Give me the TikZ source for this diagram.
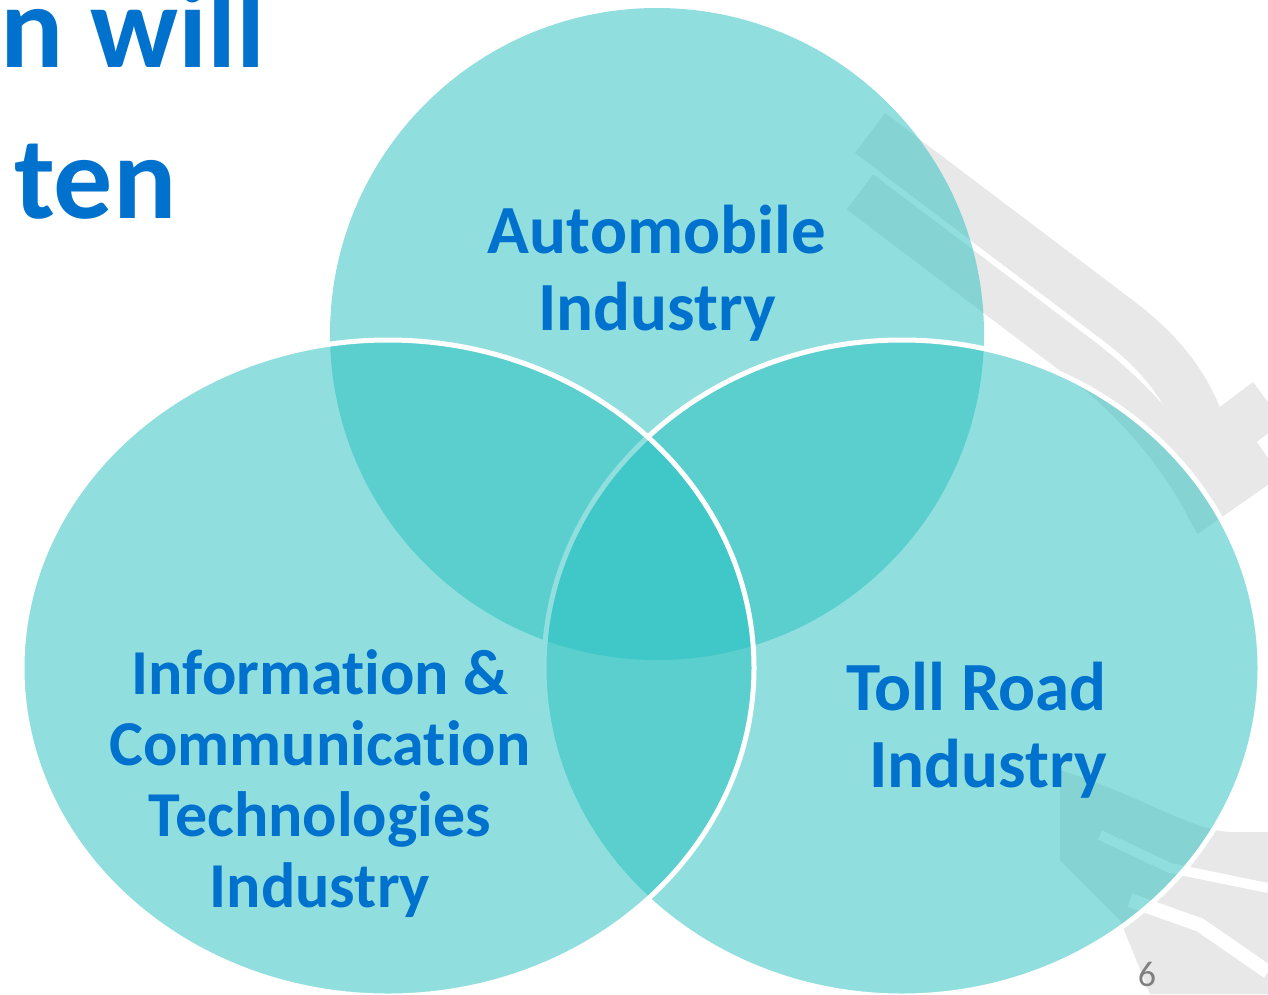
\documentclass[tikz,border=0pt]{standalone}
\usepackage{fontspec}
\setmainfont{Carlito}[Ligatures={NoCommon,NoRare,NoContextual}]
\definecolor{vennfill}{RGB}{39,191,191}
\definecolor{labelblue}{RGB}{0,114,206}
\definecolor{markgray}{RGB}{232,232,232}
\definecolor{pagegray}{RGB}{128,128,128}
\tikzset{
  venn/.style={fill=vennfill,fill opacity=0.51,draw=white,line width=5pt},
  industry/.style={text=labelblue,font=\bfseries\fontsize{69}{77}\selectfont,align=center,inner sep=0pt},
  heading/.style={text=labelblue,font=\bfseries\fontsize{118}{140}\selectfont,inner sep=0pt,anchor=base west},
  band/.style={draw=markgray,line width=#1,line join=miter},
}
\begin{document}
\begin{tikzpicture}[x=1pt,y=-1pt]
  \useasboundingbox (0,0) rectangle (1268,994);
  % watermark behind the circles
  \draw[band=50] (870,133) -- (1120,322) .. controls (1170,360) and (1195,400) .. (1207,448) -- (1268,402);
  \draw[band=44] (860,192) -- (1085,362) .. controls (1140,405) and (1180,455) .. (1205,502) -- (1268,458);
  \fill[markgray] (1060,770) .. controls (1140,795) and (1190,830) .. (1230,832) -- (1268,832) -- (1268,994) -- (1150,994) -- (1120,920) -- (1060,860) -- cycle;
  \draw[white,line width=10] (1100,835) -- (1170,868) -- (1268,888);
  \draw[white,line width=14] (1130,900) -- (1200,925) -- (1268,972);
  % the three industries
  \path[venn,draw=none] (657,334) ellipse [x radius=327,y radius=326];
  \path[venn] (902,668) ellipse [x radius=358,y radius=328];
  \path[venn] (388,668) ellipse [x radius=366,y radius=328];
  \node[industry] (auto) at (657,273) {Automobile\\Industry};
  \node[industry,font=\bfseries\fontsize{64}{71}\selectfont] (ict) at (320,784) {Information \&\\Communication\\Technologies\\Industry};
  \node[industry,align=right,anchor=east] (toll) at (1107,730) {Toll Road\\Industry};
  % cut title and page number
  \node[heading] (title1) at (0,67) {n will};
  \node[heading] (title2) at (14,218) {ten};
  \node[text=pagegray,font=\fontsize{36}{40}\selectfont,inner sep=0pt,anchor=base] (page) at (1147,986) {6};
\end{tikzpicture}
\end{document}
